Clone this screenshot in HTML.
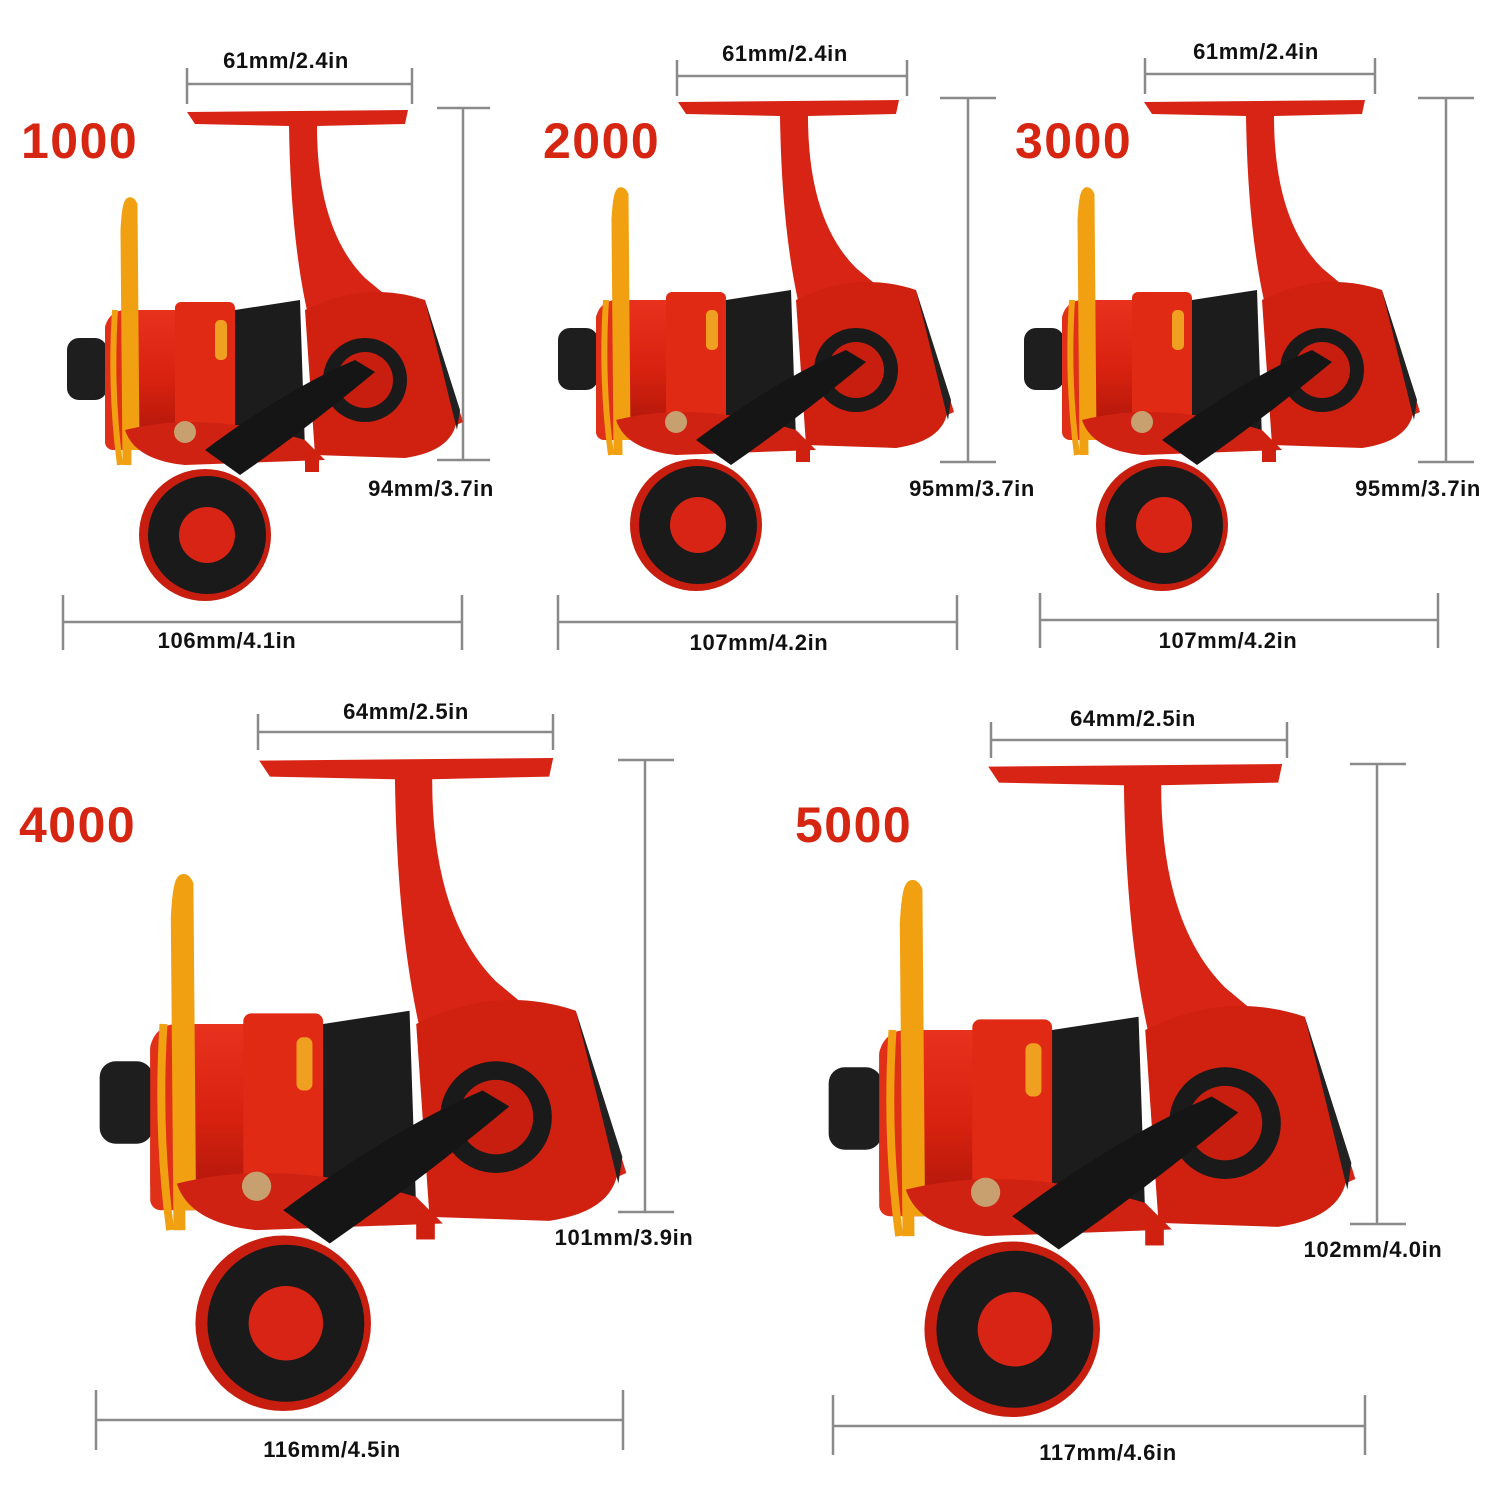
<!DOCTYPE html>
<html><head><meta charset="utf-8"><style>
html,body{margin:0;padding:0;background:#fff}
svg{display:block}
text{font-family:"Liberation Sans",Arial,sans-serif;font-weight:bold}
</style></head><body>
<svg width="1500" height="1500" viewBox="0 0 1500 1500" xmlns="http://www.w3.org/2000/svg">
<defs>
<linearGradient id="rg" x1="0" y1="0" x2="0" y2="1">
<stop offset="0" stop-color="#e8321e"/><stop offset="0.5" stop-color="#d8220f"/><stop offset="1" stop-color="#a8140a"/></linearGradient>
<g id="reel">
 <path d="M122,2 L343,0 L340,14 L252,16 Q252,120 300,168 L372,228 L398,312 L330,342 L250,232 Q226,150 224,16 L130,14 Z" fill="#d82414"/>
 <path d="M240,200 Q300,170 360,190 L392,300 Q395,340 340,348 L250,345 Z" fill="#cf2010"/>
 <path d="M360,190 L395,300 L392,320 L370,230 Z" fill="#222"/>
 <circle cx="300" cy="270" r="42" fill="#1a1a1a"/>
 <circle cx="300" cy="270" r="28" fill="#c81e10"/>
 <rect x="40" y="200" width="195" height="140" rx="20" fill="url(#rg)"/>
 <rect x="110" y="192" width="60" height="150" rx="6" fill="#e02a14"/>
 <rect x="150" y="210" width="12" height="40" rx="5" fill="#f0a020"/>
 <path d="M170,200 L235,190 L240,340 L170,340 Z" fill="#1c1c1c"/>
 <rect x="2" y="228" width="40" height="62" rx="12" fill="#1e1e1e"/>
 <rect x="40" y="210" width="28" height="130" rx="8" fill="#e03018"/>
 <path d="M62,355 L60,120 Q62,82 68,95 L70,340" stroke="#f0a010" stroke-width="9" fill="none"/>
 <path d="M50,200 Q45,280 55,355" stroke="#f0a010" stroke-width="6" fill="none"/>
 <path d="M60,320 Q140,300 240,330 L260,350 L120,355 Q70,350 60,320 Z" fill="#d02212"/>
 <circle cx="120" cy="322" r="11" fill="#c8a070"/>
 <path d="M140,340 Q220,280 290,250 L310,262 Q240,320 175,365 Z" fill="#151515"/>
 <rect x="240" y="340" width="14" height="22" fill="#d02010"/>
 <circle cx="140" cy="425" r="66" fill="#c81e10"/>
 <circle cx="142" cy="425" r="59" fill="#1a1a1a"/>
 <circle cx="142" cy="425" r="28" fill="#d82414"/>
</g>
</defs>
<g stroke="#8a8a8a" stroke-width="2.5" fill="none">
 <path d="M187,84H412M187,68V104M412,68V104M463,108V460M437,108H490M437,460H490M63,622H462M63,595V650M462,595V650"/>
 <path d="M677,76H907M677,60V96M907,60V96M968,98V462M940,98H996M940,462H996M558,622H957M558,595V650M957,595V650"/>
 <path d="M1145,74H1375M1145,58V94M1375,58V94M1446,98V462M1418,98H1474M1418,462H1474M1040,620H1438M1040,593V648M1438,593V648"/>
 <path d="M258,732H553M258,714V750M553,714V750M645,760V1212M618,760H674M618,1212H674M96,1420H623M96,1390V1450M623,1390V1450"/>
 <path d="M991,740H1287M991,722V758M1287,722V758M1377,764V1224M1350,764H1406M1350,1224H1406M833,1426H1365M833,1395V1455M1365,1395V1455"/>
</g>
<use href="#reel" transform="translate(65,110)"/>
<use href="#reel" transform="translate(556,100)"/>
<use href="#reel" transform="translate(1022,100)"/>
<use href="#reel" transform="translate(97,758) scale(1.33)"/>
<use href="#reel" transform="translate(826,764) scale(1.33)"/>
<g fill="#d62612" font-size="50" letter-spacing="1.5">
 <text x="21" y="158">1000</text>
 <text x="543" y="158">2000</text>
 <text x="1015" y="158">3000</text>
 <text x="19" y="842">4000</text>
 <text x="795" y="842">5000</text>
</g>
<g fill="#111" font-size="22" text-anchor="middle" letter-spacing="0.6">
 <text x="286" y="68">61mm/2.4in</text>
 <text x="785" y="61">61mm/2.4in</text>
 <text x="1256" y="59">61mm/2.4in</text>
 <text x="431" y="496">94mm/3.7in</text>
 <text x="972" y="496">95mm/3.7in</text>
 <text x="1418" y="496">95mm/3.7in</text>
 <text x="227" y="648">106mm/4.1in</text>
 <text x="759" y="650">107mm/4.2in</text>
 <text x="1228" y="648">107mm/4.2in</text>
 <text x="406" y="719">64mm/2.5in</text>
 <text x="1133" y="726">64mm/2.5in</text>
 <text x="624" y="1245">101mm/3.9in</text>
 <text x="1373" y="1257">102mm/4.0in</text>
 <text x="332" y="1457">116mm/4.5in</text>
 <text x="1108" y="1460">117mm/4.6in</text>
</g>
</svg>
</body></html>
